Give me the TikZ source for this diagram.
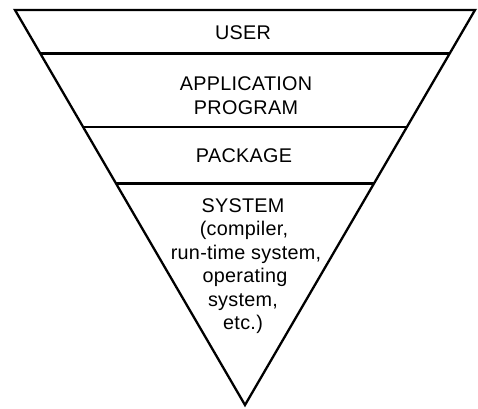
\documentclass[tikz,border=0pt]{standalone}
\usepackage{fontspec}
\setmainfont{Liberation Sans}[LetterSpace=1.5]
\usetikzlibrary{calc}
\begin{document}
\begin{tikzpicture}[x=1pt,y=-1pt, line width=2.3pt, line join=miter,
  layertext/.style={font=\fontsize{19.8}{23.5}\selectfont, anchor=base, inner sep=0pt}]
\useasboundingbox (0,0) rectangle (478,408);
\coordinate (A) at (15,10);
\coordinate (B) at (475,10);
\coordinate (C) at (245,405);
\draw (A) -- (B) -- (C) -- cycle;
\draw ($(A)!0.110!(C)$) coordinate (l1) -- ($(B)!0.110!(C)$) coordinate (r1);
\draw ($(A)!0.296!(C)$) coordinate (l2) -- ($(B)!0.296!(C)$) coordinate (r2);
\draw ($(A)!0.439!(C)$) coordinate (l3) -- ($(B)!0.439!(C)$) coordinate (r3);
\node[layertext] (user) at (243,39) {USER};
\node[layertext] (app1) at (246,90) {APPLICATION};
\node[layertext] (app2) at (246,114) {PROGRAM};
\node[layertext] (pkg) at (244,162) {PACKAGE};
\node[layertext] (sys1) at (243,212) {SYSTEM};
\node[layertext] (sys2) at (244,235.5) {(compiler,};
\node[layertext] (sys3) at (246,259) {run-time system,};
\node[layertext] (sys4) at (245,282.5) {operating};
\node[layertext] (sys5) at (243,306) {system,};
\node[layertext] (sys6) at (243,329.5) {etc.)};
\end{tikzpicture}
\end{document}
